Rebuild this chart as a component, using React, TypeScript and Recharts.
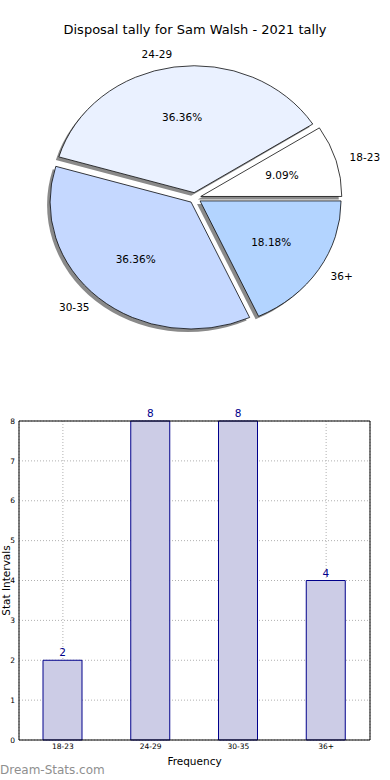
import { PieChart, Pie, BarChart, Bar, XAxis, YAxis, CartesianGrid, LabelList, Label } from 'recharts';

const title = 'Disposal tally for Sam Walsh - 2021 tally';
const categories = ['18-23', '24-29', '30-35', '36+'];
const counts = [2, 8, 8, 4];
const sliceColors = ['#FFFFFF', '#EAF1FF', '#C5D8FF', '#B3D4FF'];
const yTicks = [0, 1, 2, 3, 4, 5, 6, 7, 8];

const rows = categories.map((label, i) => ({ label, value: counts[i] }));
const total = counts.reduce((a, b) => a + b, 0);

// pie geometry (matplotlib draws it slightly squashed, so sectors get scaled in y)
const CX = 195;
const CY = 198;
const R = 141;
const SY = 0.9;
const EXPLODE = 6;
const SHADOW = 3;
const RAD = Math.PI / 180;

const slices = rows.map((row, i) => {
  const before = counts.slice(0, i).reduce((a, b) => a + b, 0);
  const startAngle = (before / total) * 360;
  const endAngle = ((before + row.value) / total) * 360;
  const mid = (startAngle + endAngle) / 2;
  return {
    ...row,
    color: sliceColors[i],
    startAngle,
    endAngle,
    mid,
    cx: CX + EXPLODE * Math.cos(mid * RAD),
    cy: CY - EXPLODE * Math.sin(mid * RAD),
    pct: ((row.value / total) * 100).toFixed(2) + '%',
  };
});

const sy = (y: number) => CY + (y - CY) * SY;

function sliceLabel(s: (typeof slices)[number]) {
  return () => {
    const cos = Math.cos(s.mid * RAD);
    const sin = Math.sin(s.mid * RAD);
    const lx = s.cx + 1.1 * R * cos;
    const ly = sy(s.cy - 1.1 * R * sin);
    const px = s.cx + 0.6 * R * cos;
    const py = sy(s.cy - 0.6 * R * sin);
    return (
      <g>
        <text x={lx} y={ly} dy="0.35em" textAnchor={cos < 0 ? 'end' : 'start'} fontSize={10.5} fill="#000">
          {s.label}
        </text>
        <text x={px} y={py} dy="0.35em" textAnchor="middle" fontSize={10.5} fill="#000">
          {s.pct}
        </text>
      </g>
    );
  };
}

export default function App() {
  return (
    <div style={{ position: 'absolute', left: 0, top: 0, width: 390, height: 780, background: '#fff', fontFamily: 'DejaVu Sans' }}>
      <style>{`.pie-area path.recharts-sector { transform: scale(1, ${SY}); transform-origin: ${CX}px ${CY}px; }`}</style>
      <div style={{ position: 'absolute', top: 22, left: 0, width: 390, textAlign: 'center', fontSize: 13, lineHeight: '16px', color: '#000' }}>
        {title}
      </div>

      <div className="pie-area" style={{ position: 'absolute', top: 0, left: 0 }}>
        <PieChart width={390} height={370} margin={{ top: 0, right: 0, bottom: 0, left: 0 }}>
          {slices.map((s) => (
            <Pie
              key={'shadow-' + s.label}
              data={[s]}
              dataKey="value"
              cx={s.cx - SHADOW}
              cy={s.cy + SHADOW / SY}
              outerRadius={R}
              startAngle={s.startAngle}
              endAngle={s.endAngle}
              fill="#8a8a8a"
              stroke="none"
              label={false}
              labelLine={false}
              isAnimationActive={false}
            />
          ))}
          {slices.map((s) => (
            <Pie
              key={s.label}
              data={[s]}
              dataKey="value"
              cx={s.cx}
              cy={s.cy}
              outerRadius={R}
              startAngle={s.startAngle}
              endAngle={s.endAngle}
              fill={s.color}
              stroke="#000"
              strokeWidth={0.8}
              label={sliceLabel(s)}
              labelLine={false}
              isAnimationActive={false}
            />
          ))}
        </PieChart>
      </div>

      <div style={{ position: 'absolute', top: 400, left: 0 }}>
        <BarChart width={390} height={380} data={rows} margin={{ top: 20, right: 19, left: 0, bottom: 10 }} barCategoryGap={0}>
          <CartesianGrid stroke="#b0b0b0" strokeDasharray="1 2" />
          <XAxis
            dataKey="label"
            interval={0}
            tick={{ fontSize: 7.5, fill: '#000' }}
            tickLine={false}
            tickSize={2}
            tickMargin={2}
            axisLine={{ stroke: '#000' }}
            height={30}
          >
            <Label value="Frequency" position="insideBottom" offset={5} style={{ fontSize: 10.5, fill: '#000' }} />
          </XAxis>
          <XAxis xAxisId="top" dataKey="label" orientation="top" tick={false} tickLine={false} axisLine={{ stroke: '#000' }} height={1} />
          <YAxis
            domain={[0, 8]}
            ticks={yTicks}
            interval={0}
            tick={{ fontSize: 7.5, fill: '#000' }}
            tickLine={false}
            tickSize={2}
            tickMargin={2}
            axisLine={{ stroke: '#000' }}
            width={19}
          >
            <Label value="Stat Intervals" angle={-90} position="insideLeft" offset={6} style={{ fontSize: 10.5, fill: '#000', textAnchor: 'middle' }} />
          </YAxis>
          <YAxis yAxisId="right" orientation="right" domain={[0, 8]} tick={false} tickLine={false} axisLine={{ stroke: '#000' }} width={1} />
          <Bar dataKey="value" fill="#CCCCE6" stroke="#00008B" strokeWidth={1} barSize={39} isAnimationActive={false}>
            <LabelList dataKey="value" position="top" offset={4} fill="#00008B" fontSize={10.5} />
          </Bar>
        </BarChart>
      </div>

      <div style={{ position: 'absolute', left: 0, top: 763, fontSize: 12, color: '#8f8f8f', lineHeight: '14px' }}>
        Dream-Stats.com
      </div>
    </div>
  );
}
